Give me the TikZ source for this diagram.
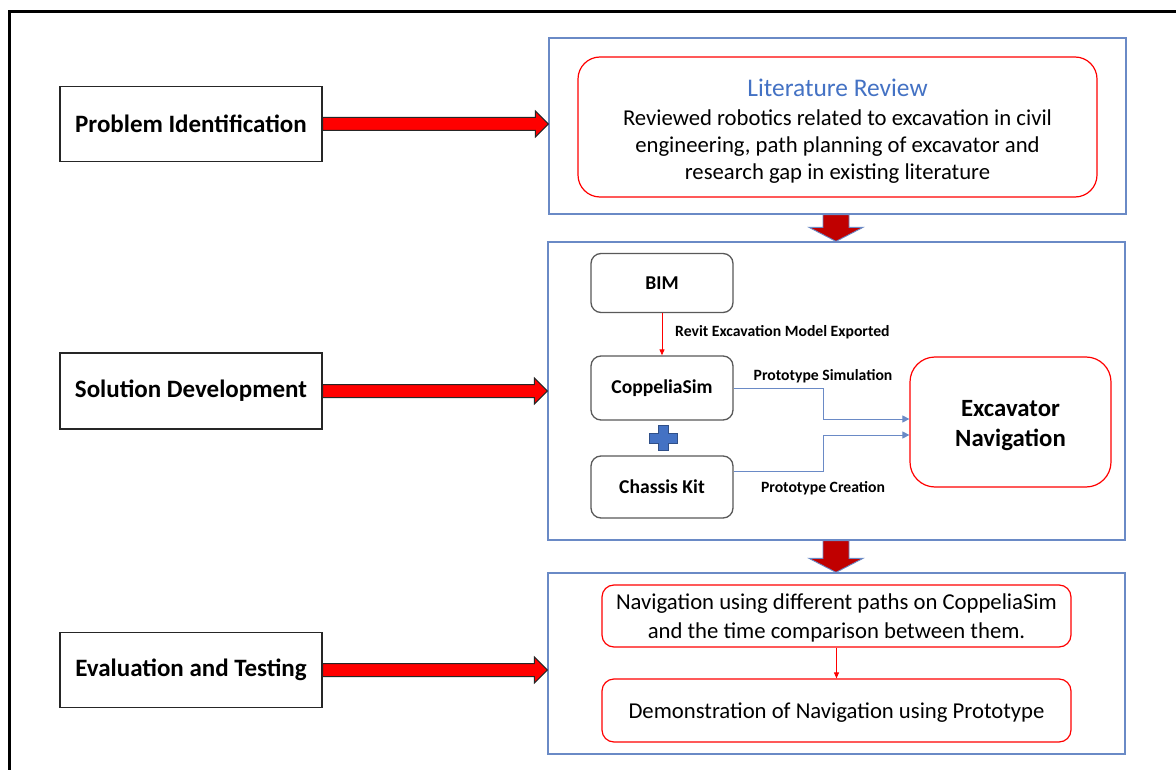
\documentclass[tikz,border=0pt]{standalone}
\usepackage{fontspec}
\setmainfont{Carlito}
\usetikzlibrary{calc,arrows.meta}

\definecolor{frameblue}{HTML}{6A8AC6}
\definecolor{plusblue}{HTML}{4472C4}
\definecolor{darkred}{HTML}{C00000}
\definecolor{boxgray}{HTML}{595959}

\tikzset{
  stagebox/.style={draw=black!85, line width=1.3pt, fill=white, minimum width=262pt, minimum height=75pt,
    font=\fontsize{25}{30}\selectfont\bfseries, inner sep=0pt},
  panel/.style={draw=frameblue, line width=1.3pt, minimum width=577pt, inner sep=0pt},
  redbox/.style={draw=red, line width=1.2pt, rounded corners=#1, inner sep=0pt},
  boxtext/.style={align=center, inner sep=0pt},
  toolbox/.style={draw=boxgray, line width=1.3pt, rounded corners=10pt, minimum width=142pt,
    font=\fontsize{19.6}{23}\selectfont\bfseries, inner sep=0pt},
  smalllabel/.style={font=\fontsize{15.7}{18}\selectfont\bfseries, inner sep=0pt},
  bodytext/.style={font=\fontsize{22.7}{27}\selectfont},
  bigarrow/.style={fill=red, draw=black!85, line width=1pt, line join=miter},
  downarrow/.style={fill=darkred, draw=frameblue, line width=0.9pt, line join=miter},
  bluelink/.style={draw=frameblue, line width=0.9pt, -{Triangle[length=7pt,width=7pt]}, fill=none},
  redlink/.style={draw=red, line width=1pt, -{Triangle[length=6pt,width=5pt]}},
}

% horizontal block arrow from (#1) to the tip (#2), same y
\newcommand\blockarrowright[2]{%
  \draw[bigarrow] ($(#1)+(0,-6.5)$) -- ($(#2)+(-13,-6.5)$) -- ($(#2)+(-13,-13)$) -- (#2)
    -- ($(#2)+(-13,13)$) -- ($(#2)+(-13,6.5)$) -- ($(#1)+(0,6.5)$) -- cycle;}
% vertical block arrow from (#1) down to the tip (#2)
\newcommand\blockarrowdown[2]{%
  \draw[downarrow] ($(#1)+(-13,0)$) -- ($(#2)+(-13,-14)$) -- ($(#2)+(-27,-14)$) -- (#2)
    -- ($(#2)+(27,-14)$) -- ($(#2)+(13,-14)$) -- ($(#1)+(13,0)$) -- cycle;}

\begin{document}
\begin{tikzpicture}[x=1pt,y=-1pt]
\useasboundingbox (0,0) rectangle (1176,770);
\fill[white] (0,0) rectangle (1176,770);

% outer frame
\draw[line width=3pt] (9.5,770) -- (9.5,12) -- (1176,12);

% stage boxes on the left
\node[stagebox] (prob) at (191,124) {Problem Identification};
\node[stagebox, minimum height=76pt] (sol) at (191,391) {Solution Development};
\node[stagebox] (eval) at (191,670) {Evaluation and Testing};

% panels on the right
\node[panel, minimum height=176pt] (lit) at (837.5,126) {};
\node[panel, minimum height=298pt] (dev) at (836.5,391) {};
\node[panel, minimum height=181pt] (test) at (836.5,663.5) {};

% literature review
\node[redbox=22pt, minimum width=519pt, minimum height=140pt] (rev) at (837.5,127) {};
\node[bodytext, boxtext] (revtext) at (rev.center) [yshift=-4pt]
  {{\fontsize{25.4}{27}\selectfont\textcolor{plusblue}{Literature Review}}\\[2pt]
   Reviewed robotics related to excavation in civil\\
   engineering, path planning of excavator and\\
   research gap in existing literature};

% solution development
\node[toolbox, minimum height=59pt] (bim) at (662,283) {BIM};
\node[toolbox, minimum height=64pt] (cop) at (662,388) {CoppeliaSim};
\node[toolbox, minimum height=62pt] (cha) at (662,487) {Chassis Kit};
\node[redbox=25pt, minimum width=201pt, minimum height=130pt] (exc) at (1010.5,422) {};
\node[boxtext, font=\fontsize{24.8}{29.5}\selectfont\bfseries] (exctext) at (exc.center) [yshift=-3.5pt]
  {Excavator\\Navigation};

\draw[redlink] (bim.south) -- (cop.north);
\node[smalllabel, anchor=west] (revit) at (675,332) {Revit Excavation Model Exported};

\draw[bluelink] (cop.east) -- ++(90,0) |- ([yshift=3pt]exc.west);
\draw[bluelink] ([yshift=16pt]cha.east) -- ++(90,0) |- ([yshift=-13pt]exc.west);
\node[smalllabel] (sim) at (823,376) {Prototype Simulation};
\node[smalllabel] (cre) at (823,488) {Prototype Creation};

% plus sign between the two tools
\draw[fill=plusblue, draw=plusblue!70!black, line width=0.6pt]
  (658,425.5) -- (668,425.5) -- (668,433) -- (677,433) -- (677,443) -- (668,443)
  -- (668,450.5) -- (658,450.5) -- (658,443) -- (649,443) -- (649,433) -- (658,433) -- cycle;

% evaluation and testing
\node[redbox=12pt, minimum width=469pt, minimum height=62pt] (nav) at (836.5,616) {};
\node[bodytext, boxtext, font=\fontsize{22.7}{29}\selectfont] (navtext) at (nav.center) [yshift=-2pt]
  {Navigation using different paths on CoppeliaSim\\and the time comparison between them.};
\node[redbox=12pt, minimum width=469pt, minimum height=63pt] (demo) at (836.5,710.5) {};
\node[bodytext, boxtext] (demotext) at (demo.center) [yshift=-2.5pt]
  {Demonstration of Navigation using Prototype};
\draw[redlink] (nav.south) -- (demo.north);

% block arrows
\coordinate (t1) at (lit.west |- prob.east);
\coordinate (t2) at (dev.west |- sol.east);
\coordinate (t3) at (test.west |- eval.east);
\blockarrowright{prob.east}{t1}
\blockarrowright{sol.east}{t2}
\blockarrowright{eval.east}{t3}

\coordinate (d1s) at (836,214);
\coordinate (d1t) at (lit.south -| d1s);
\coordinate (d1e) at (dev.north -| d1s);
\blockarrowdown{d1t}{d1e}
\coordinate (d2t) at (dev.south -| d1s);
\coordinate (d2e) at (test.north -| d1s);
\blockarrowdown{d2t}{d2e}
\end{tikzpicture}
\end{document}
